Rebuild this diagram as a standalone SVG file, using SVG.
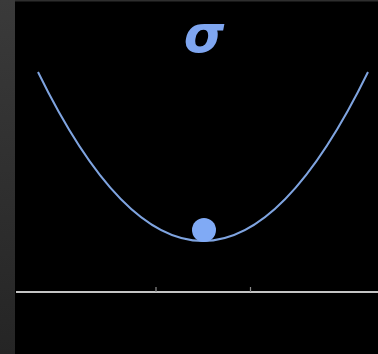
<svg xmlns="http://www.w3.org/2000/svg" width="378" height="354" viewBox="0 0 378 354">
  <defs>
    <linearGradient id="side" x1="0" y1="0" x2="0" y2="1">
      <stop offset="0" stop-color="#3a3a3a"/>
      <stop offset="1" stop-color="#252525"/>
    </linearGradient>
    <style>
      .curve { fill: none; stroke: #7fa4e0; stroke-width: 2; }
      .axis { stroke: #c4c4c4; stroke-width: 2; fill: none; }
      .tick { stroke: #8a8a8a; stroke-width: 1.2; }
    </style>
  </defs>
  <rect x="0" y="0" width="378" height="354" fill="#000"/>
  <rect x="0" y="0" width="15" height="354" fill="url(#side)"/>
  <rect x="15" y="0" width="363" height="1.5" fill="#2e2e2e"/>
  <g id="sigma">
    <text x="204" y="52" text-anchor="middle" font-family="'DejaVu Sans', sans-serif" font-weight="bold" font-style="italic" font-size="52" fill="#7fa6f0">σ</text>
  </g>
  <g id="curve">
    <path class="curve" d="M38,72 Q203,410 368,72"/>
  </g>
  <g id="ball">
    <circle cx="204" cy="230" r="12" fill="#80aaf5"/>
  </g>
  <g id="axis">
    <line class="axis" x1="16" y1="292" x2="378" y2="292"/>
    <line class="tick" x1="156" y1="287" x2="156" y2="292"/>
    <line class="tick" x1="250.5" y1="287" x2="250.5" y2="292"/>
  </g>
</svg>
